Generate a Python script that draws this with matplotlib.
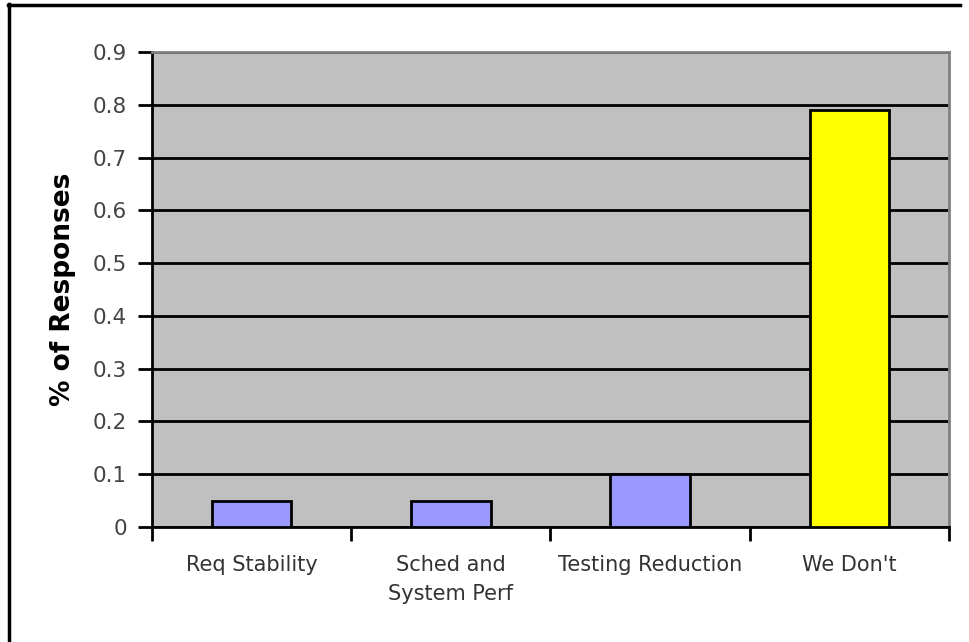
import matplotlib
matplotlib.use("Agg")
import matplotlib.pyplot as plt
from matplotlib.lines import Line2D

# survey answers
categories = ["Req Stability", "Sched and\nSystem Perf", "Testing Reduction", "We Don't"]
shares = [0.05, 0.05, 0.10, 0.79]
bar_colors = ["#9999FF", "#9999FF", "#9999FF", "#FFFF00"]
y_ticks = [0, 0.1, 0.2, 0.3, 0.4, 0.5, 0.6, 0.7, 0.8, 0.9]
y_tick_labels = ["0", "0.1", "0.2", "0.3", "0.4", "0.5", "0.6", "0.7", "0.8", "0.9"]

W, H = 970, 642
fig = plt.figure(figsize=(W / 100, H / 100), dpi=100)
fig.patch.set_facecolor("white")

ax = fig.add_axes([152 / W, 1 - 527 / H, (949 - 152) / W, (527 - 52) / H])
ax.set_facecolor("#C0C0C0")

x = list(range(len(categories)))
ax.bar(x, shares, width=0.4, color=bar_colors, edgecolor="black", linewidth=2, zorder=3)

ax.set_xlim(-0.5, len(categories) - 0.5)
ax.set_ylim(0, 0.9)

# black gridlines at every tenth
ax.set_yticks(y_ticks)
ax.set_yticklabels(y_tick_labels)
ax.yaxis.grid(True, color="black", linewidth=2, zorder=1)
ax.set_axisbelow(True)

# category labels centred, tick marks between categories
ax.set_xticks(x)
ax.set_xticklabels(categories, linespacing=1.6)
ax.set_xticks([i - 0.5 for i in range(len(categories) + 1)], minor=True)
ax.tick_params(axis="x", which="major", length=0, pad=20, labelsize=15, labelcolor="#333333")
ax.tick_params(axis="x", which="minor", length=10, width=2, color="black", direction="out")
ax.tick_params(axis="y", length=10, width=2, color="black", pad=8, labelsize=15.5,
               labelcolor="#444444")
for lab in ax.get_xticklabels():
    lab.set_verticalalignment("top")

for side in ("left", "bottom"):
    ax.spines[side].set_color("black")
    ax.spines[side].set_linewidth(2)
for side in ("top", "right"):
    ax.spines[side].set_color("#808080")
    ax.spines[side].set_linewidth(2)

ax.set_ylabel("% of Responses", fontsize=19, fontweight="bold", labelpad=12)

# frame lines along the top and left of the picture
fig.add_artist(Line2D([8 / W, 960 / W], [1 - 4.7 / H, 1 - 4.7 / H], color="black", linewidth=2.5))
fig.add_artist(Line2D([9.5 / W, 9.5 / W], [1 - 3.5 / H, 0], color="black", linewidth=2.5))

fig.savefig("out.png", dpi=100)
